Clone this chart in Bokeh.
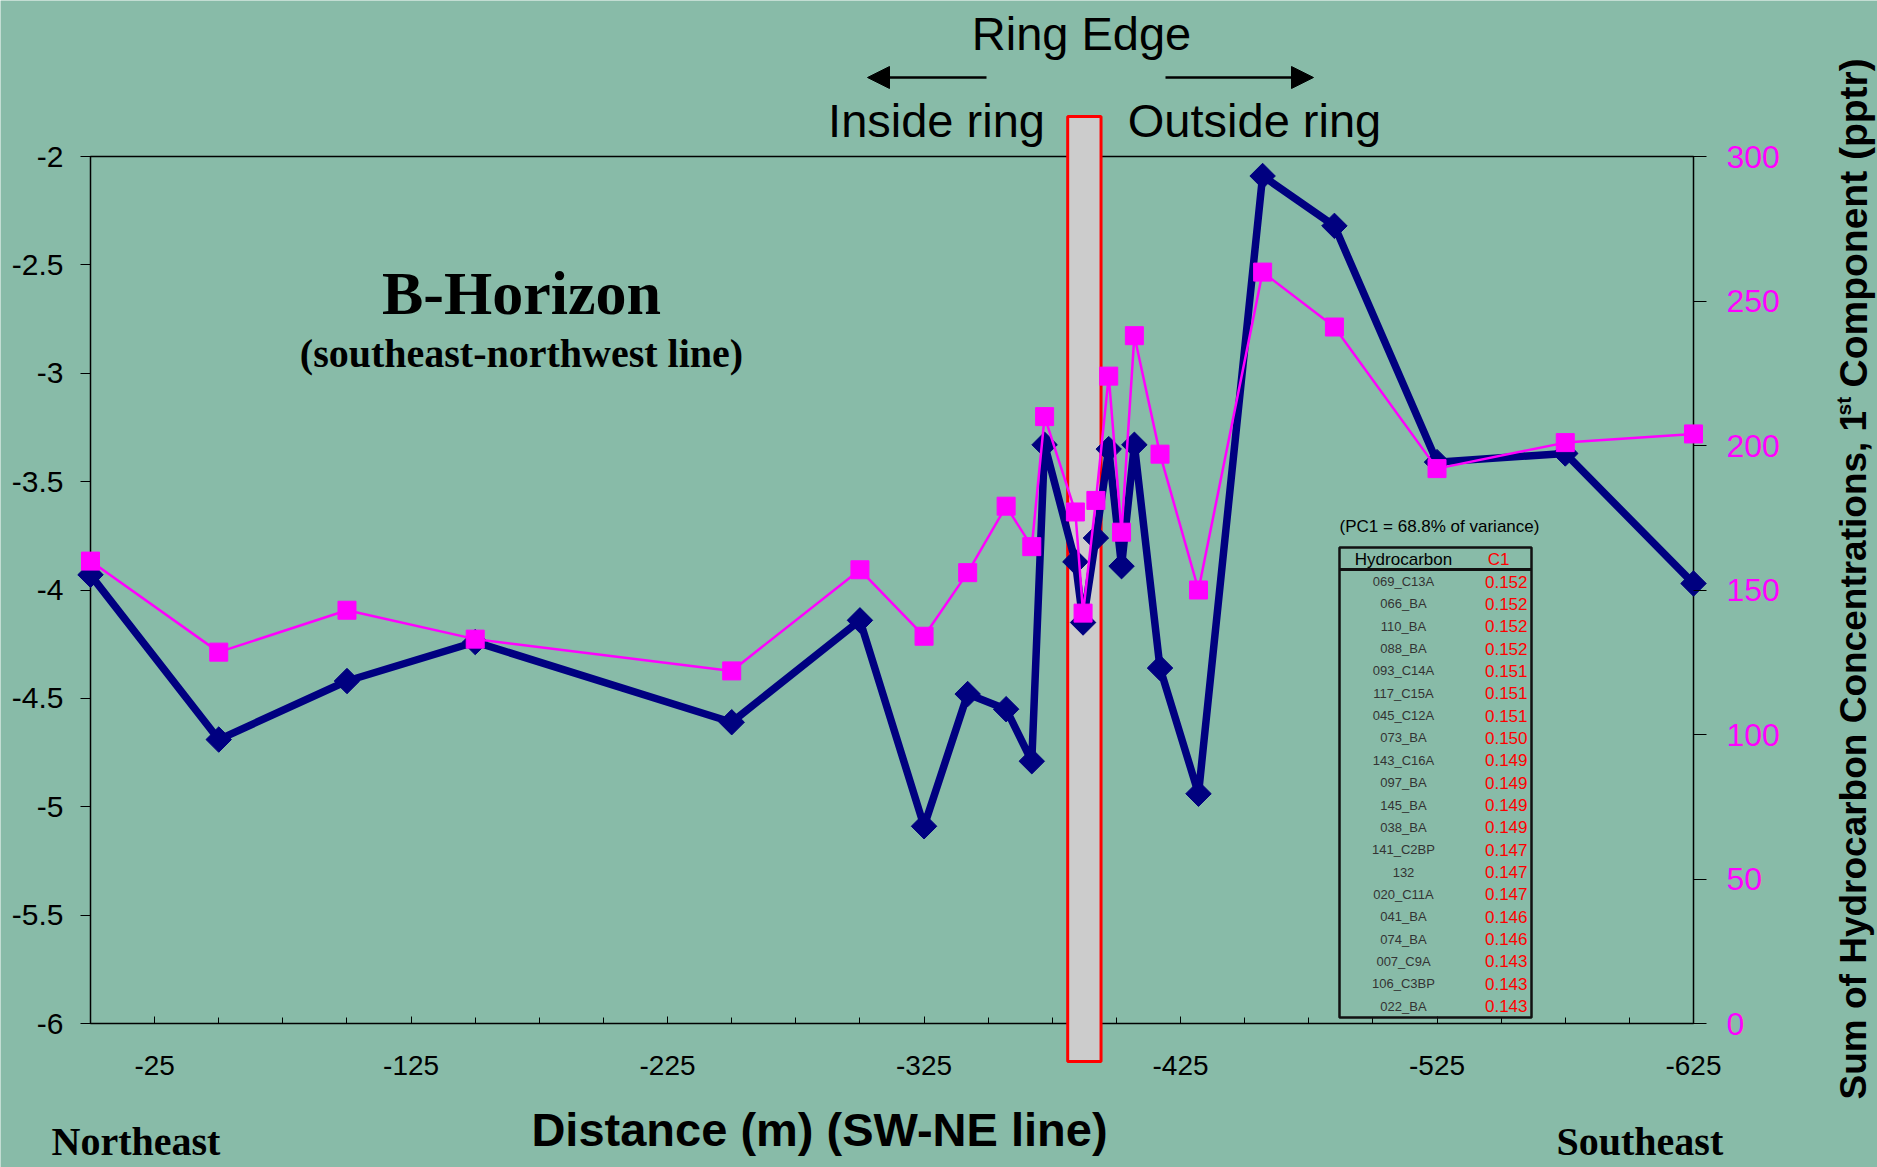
import numpy as np
from bokeh.plotting import figure
from bokeh.models import (Range1d, LinearAxis, FixedTicker, Label, BoxAnnotation,
                          Arrow, NormalHead, ColumnDataSource)
from bokeh.embed import file_html
from bokeh.resources import INLINE

# ---------------- data ----------------
distance_m = [0, -50, -100, -150, -250, -300, -325, -342, -357, -367, -372, -384,
              -387, -392, -397, -402, -407, -417, -432, -457, -485, -525, -575, -625]
pc1_score = [-3.93, -4.69, -4.42, -4.24, -4.61, -4.14, -5.09, -4.48, -4.55, -4.79,
             -3.33, -3.87, -4.15, -3.76, -3.35, -3.89, -3.33, -4.36, -4.94, -2.09,
             -2.32, -3.41, -3.37, -3.97]
sum_hc_pptr = [160, 128.5, 143, 133, 122, 157, 134, 156, 179, 165, 210, 177, 142,
               181, 224, 170, 238, 197, 150, 260, 241, 192, 201, 204]

ring_edge_left, ring_edge_right = -381, -394

x_ticks = [-25, -125, -225, -325, -425, -525, -625]
x_tick_labels = ["-25", "-125", "-225", "-325", "-425", "-525", "-625"]
left_ticks = [-2, -2.5, -3, -3.5, -4, -4.5, -5, -5.5, -6]
left_tick_labels = ["-2", "-2.5", "-3", "-3.5", "-4", "-4.5", "-5", "-5.5", "-6"]
right_ticks = [0, 50, 100, 150, 200, 250, 300]
right_tick_labels = ["0", "50", "100", "150", "200", "250", "300"]

hydrocarbons = ["069_C13A", "066_BA", "110_BA", "088_BA", "093_C14A", "117_C15A",
                "045_C12A", "073_BA", "143_C16A", "097_BA", "145_BA", "038_BA",
                "141_C2BP", "132", "020_C11A", "041_BA", "074_BA", "007_C9A",
                "106_C3BP", "022_BA"]
c1_loadings = ["0.152", "0.152", "0.152", "0.152", "0.151", "0.151", "0.151",
               "0.150", "0.149", "0.149", "0.149", "0.149", "0.147", "0.147",
               "0.147", "0.146", "0.146", "0.143", "0.143", "0.143"]

# ---------------- layout ----------------
W, H = 1877, 1167
PL, PR, PT, PB = 90, 1693, 156, 1023      # plot-area box in canvas pixels
X_LEFT, X_RIGHT = 0, -625                 # data at plot-area left/right
Y_BOT, Y_TOP = -6, -2                     # left axis data at bottom/top
HC_BOT, HC_TOP = 0, 300                   # right axis data at bottom/top
BG = "#88BBA8"
SANS = "Liberation Sans"
SERIF = "Liberation Serif"


def px_to_val(px, px_a, val_a, px_b, val_b):
    return val_a + (px - px_a) * (val_b - val_a) / (px_b - px_a)


# the frame covers the whole canvas; ranges are extended so the plot-area box
# sits where the reference draws it
x_range = Range1d(px_to_val(0, PL, X_LEFT, PR, X_RIGHT), px_to_val(W, PL, X_LEFT, PR, X_RIGHT))
y_range = Range1d(px_to_val(H, PB, Y_BOT, PT, Y_TOP), px_to_val(0, PB, Y_BOT, PT, Y_TOP))
hc_range = Range1d(px_to_val(H, PB, HC_BOT, PT, HC_TOP), px_to_val(0, PB, HC_BOT, PT, HC_TOP))

p = figure(width=W, height=H, output_backend="svg", toolbar_location=None, tools="",
           x_range=x_range, y_range=y_range, x_axis_type=None, y_axis_type=None,
           min_border=0, min_border_left=0, min_border_right=0,
           min_border_top=0, min_border_bottom=0,
           background_fill_color=BG, border_fill_color=BG, outline_line_color=None)
p.extra_y_ranges = {"hc": hc_range}


def style_axis(ax, size, color):
    ax.axis_line_color = None
    ax.major_tick_line_color = "black"
    ax.minor_tick_line_color = "black"
    ax.major_label_text_font = SANS
    ax.major_label_text_font_size = f"{size}px"
    ax.major_label_text_color = color


# bottom axis
xa = LinearAxis(fixed_location=Y_BOT,
                ticker=FixedTicker(ticks=x_ticks, minor_ticks=list(range(-625, 1, 25))))
style_axis(xa, 28, "black")
xa.major_label_overrides = dict(zip(x_ticks, x_tick_labels))
xa.major_tick_in, xa.major_tick_out = 7, 0
xa.minor_tick_in, xa.minor_tick_out = 6, 0
xa.major_label_standoff = 32
p.add_layout(xa, "below")

# left axis
ya = LinearAxis(fixed_location=X_LEFT, ticker=FixedTicker(ticks=left_ticks))
style_axis(ya, 30, "black")
ya.major_label_overrides = dict(zip(left_ticks, left_tick_labels))
ya.major_tick_in, ya.major_tick_out = 0, 10
ya.minor_tick_in, ya.minor_tick_out = 0, 0
ya.major_label_standoff = 17
p.add_layout(ya, "left")

# right axis
ra = LinearAxis(y_range_name="hc", fixed_location=X_RIGHT, ticker=FixedTicker(ticks=right_ticks))
style_axis(ra, 32, "#FF00FF")
ra.major_label_overrides = dict(zip(right_ticks, right_tick_labels))
ra.major_tick_in, ra.major_tick_out = 0, 13
ra.minor_tick_in, ra.minor_tick_out = 0, 0
ra.major_label_standoff = 20
p.add_layout(ra, "right")

# plot-area box
p.add_layout(BoxAnnotation(left=X_LEFT, right=X_RIGHT, bottom=Y_BOT, top=Y_TOP,
                           fill_color=None, line_color="black", line_alpha=1.0,
                           line_width=1.5, level="underlay"))

# ring edge band (reaches above and below the plot area, as in the reference)
p.add_layout(BoxAnnotation(left=ring_edge_left, right=ring_edge_right,
                           top=px_to_val(116, PB, Y_BOT, PT, Y_TOP),
                           bottom=px_to_val(1061, PB, Y_BOT, PT, Y_TOP),
                           fill_color="#CCCCCC", fill_alpha=1.0,
                           line_color="#FF0000", line_alpha=1.0, line_width=3,
                           level="underlay"))

# series
src = ColumnDataSource(dict(x=distance_m, pc1=pc1_score, hc=sum_hc_pptr))
p.line("x", "pc1", source=src, line_color="#000080", line_width=7.5)
p.scatter("x", "pc1", source=src, marker="square", angle=np.pi / 4, size=18,
          fill_color="#000080", line_color="#000080")
p.line("x", "hc", source=src, y_range_name="hc", line_color="#FF00FF", line_width=2.5)
p.scatter("x", "hc", source=src, y_range_name="hc", marker="square", size=18,
          fill_color="#FF00FF", line_color="#FF00FF")


def label(text, x, y, size, font=SANS, style="normal", color="black",
          align="center", baseline="middle", angle=0.0):
    p.add_layout(Label(x=x, y=H - y, x_units="screen", y_units="screen",
                       text=text, text_font=font, text_font_size=f"{size}px",
                       text_font_style=style, text_color=color, text_align=align,
                       text_baseline=baseline, angle=angle))


# ring edge header
label("Ring Edge", 1081, 33, 47)
label("Inside ring", 936, 120, 47)
label("Outside ring", 1254, 120, 47)
for xs, xe in ((986, 867), (1165, 1313)):
    p.add_layout(Arrow(end=NormalHead(size=22, fill_color="black", line_color="black"),
                       x_start=xs, y_start=H - 77, x_end=xe, y_end=H - 77,
                       start_units="screen", end_units="screen",
                       line_color="black", line_width=2.5))

label("B-Horizon", 521, 292, 62, font=SERIF, style="bold")
label("(southeast-northwest line)", 521, 353, 40, font=SERIF, style="bold")

# axis titles
label("Distance (m) (SW-NE line)", 819, 1129, 47, style="bold")
label("Northeast", 51, 1141, 40, font=SERIF, style="bold", align="left")
label("Southeast", 1556, 1141, 40, font=SERIF, style="bold", align="left")

label("Sum of Hydrocarbon Concentrations, 1", 1853, 1099, 37, style="bold",
      align="left", angle=np.pi / 2)
label("st", 1843, 415, 21, style="bold", align="left", angle=np.pi / 2)
label("Component (pptr)", 1853, 387, 39, style="bold", align="left", angle=np.pi / 2)

# loadings table
label("(PC1 = 68.8% of variance)", 1439, 526, 17)
box = dict(left_units="screen", right_units="screen", top_units="screen",
           bottom_units="screen")
p.add_layout(BoxAnnotation(left=1339, right=1531, top=H - 547, bottom=H - 1017,
                           fill_color=None, line_color="#111111", line_alpha=1.0,
                           line_width=2.5, **box))
p.add_layout(BoxAnnotation(left=1339, right=1531, top=H - 567.5, bottom=H - 570.5,
                           fill_color="#111111", fill_alpha=1.0, line_color=None, **box))
label("Hydrocarbon", 1403, 559, 17)
label("C1", 1498, 559, 17, color="#FF0000")
row0, row_h = 581, 22.35
for i, (name, val) in enumerate(zip(hydrocarbons, c1_loadings)):
    yy = row0 + i * row_h
    label(name, 1403, yy, 13, color="#333333")
    label(val, 1527, yy, 17, color="#FF0000", align="right")

open("out.html", "w").write(file_html(p, INLINE))
